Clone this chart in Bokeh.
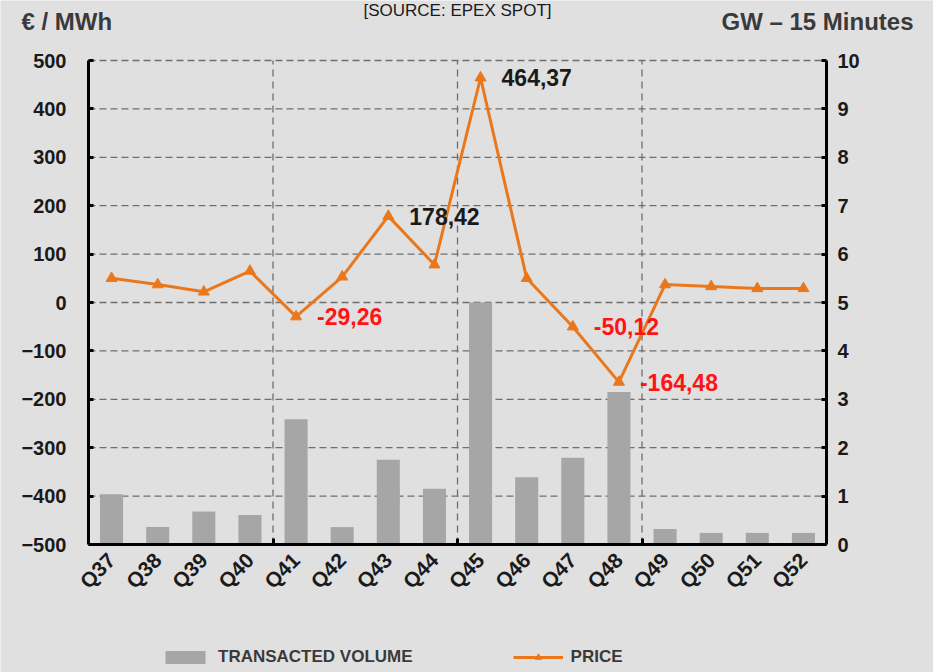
import math
from bokeh.plotting import figure
from bokeh.models import (Range1d, LinearAxis, FixedTicker, CustomJSTickFormatter,
                          ColumnDataSource, Legend, LegendItem, Label)
from bokeh.core.properties import value
from bokeh.embed import file_html
from bokeh.resources import INLINE

# ---- data ----
categories = ["Q37", "Q38", "Q39", "Q40", "Q41", "Q42", "Q43", "Q44",
              "Q45", "Q46", "Q47", "Q48", "Q49", "Q50", "Q51", "Q52"]
price = [50, 37, 22, 65, -29.26, 53, 178.42, 78,
         464.37, 50, -50.12, -164.48, 37, 33, 29, 29]           # EUR/MWh
volume = [1.04, 0.36, 0.68, 0.61, 2.59, 0.36, 1.75, 1.15,
          5.00, 1.39, 1.79, 3.15, 0.32, 0.24, 0.24, 0.24]       # GW
labelled = [4, 6, 8, 10, 11]                                    # annotated quarters
price_ticks = list(range(-500, 501, 100))
volume_ticks = list(range(0, 11))
group_breaks = [4, 8, 12]
title_left = "€ / MWh"
title_right = "GW – 15 Minutes"
source_text = "[SOURCE: EPEX SPOT]"
legend_labels = ["TRANSACTED VOLUME", "PRICE"]

FONT = "Liberation Sans"
ORANGE = "#e9781d"
BAR = "#a6a6a6"
BG = "#e0e0e1"
GRID = "#6e6e6e"
TXT = "#3a3a3a"

# ---- layout (pixels): plot box inside a 933 x 672 canvas ----
W, H = 933, 672
LEFT, RIGHT, TOP, BOTTOM = 88, 826, 60, 544
n = len(categories)
P_MIN, P_MAX = price_ticks[0], price_ticks[-1]
V_MIN, V_MAX = volume_ticks[0], volume_ticks[-1]
sx = (RIGHT - LEFT) / n
sy = (BOTTOM - TOP) / (P_MAX - P_MIN)
sv = (BOTTOM - TOP) / (V_MAX - V_MIN)

x_range = Range1d(-LEFT / sx, n + (W - RIGHT) / sx)
y_range = Range1d(P_MIN - (H - BOTTOM) / sy, P_MAX + TOP / sy)
v_range = Range1d(V_MIN - (H - BOTTOM) / sv, V_MAX + TOP / sv)

xs = [i + 0.5 for i in range(n)]

p = figure(width=W, height=H, output_backend="svg", toolbar_location=None,
           x_range=x_range, y_range=y_range, min_border=0)
p.background_fill_color = BG
p.border_fill_color = BG
p.outline_line_color = None
p.extra_y_ranges = {"gw": v_range}
p.grid.visible = False

# grid lines (dashed), limited to the plot box
hg = [t for t in price_ticks if t != P_MIN]
p.segment(x0=[0] * len(hg), x1=[n] * len(hg), y0=hg, y1=hg,
          line_color=GRID, line_width=1.3, line_dash="7 4")
p.segment(x0=group_breaks, x1=group_breaks, y0=[P_MIN] * len(group_breaks),
          y1=[P_MAX] * len(group_breaks), line_color=GRID, line_width=1.3,
          line_dash="7 5")

bars = p.vbar(x=xs, top=volume, bottom=0, width=0.5, y_range_name="gw",
              fill_color=BAR, line_color=None)

src = ColumnDataSource(dict(x=xs, y=price))
line = p.line("x", "y", source=src, line_color=ORANGE, line_width=3)
marks = p.scatter("x", "y", source=src, marker="triangle", size=11,
                  fill_color=ORANGE, line_color=ORANGE)

lab = ColumnDataSource(dict(
    x=[xs[i] for i in labelled],
    y=[price[i] for i in labelled],
    text=[f"{price[i]:.2f}".replace(".", ",") for i in labelled],
    color=["#ff1414" if price[i] < 0 else "#1a1a1a" for i in labelled],
))
p.text("x", "y", text="text", source=lab, text_color="color", x_offset=21,
       text_baseline="middle", text_align="left", text_font_size="23px",
       text_font_style="bold", text_font=value(FONT))


def style(ax, size="20px"):
    ax.axis_line_width = 3
    ax.axis_line_color = "black"
    ax.major_tick_in = 5
    ax.major_tick_out = 0
    ax.major_tick_line_width = 3
    ax.major_tick_line_color = "black"
    ax.minor_tick_line_color = None
    ax.major_label_text_font = FONT
    ax.major_label_text_font_style = "bold"
    ax.major_label_text_font_size = size
    ax.major_label_text_color = "#1a1a1a"


xa = p.xaxis[0]
style(xa, "21px")
xa.ticker = FixedTicker(ticks=xs, minor_ticks=group_breaks)
xa.formatter = CustomJSTickFormatter(args=dict(labels=categories),
                                     code="return labels[Math.floor(tick)];")
xa.major_tick_line_color = None
xa.minor_tick_in = 6
xa.minor_tick_out = 0
xa.minor_tick_line_width = 3
xa.minor_tick_line_color = "black"
xa.major_label_orientation = math.pi / 4
xa.major_label_standoff = 12
xa.bounds = (0, n)
xa.fixed_location = P_MIN

ya = p.yaxis[0]
style(ya)
ya.ticker = FixedTicker(ticks=price_ticks)
ya.major_label_standoff = 22
ya.bounds = (P_MIN, P_MAX)
ya.fixed_location = 0

ra = LinearAxis(y_range_name="gw", ticker=FixedTicker(ticks=volume_ticks))
style(ra)
ra.major_label_standoff = 11
ra.bounds = (V_MIN, V_MAX)
ra.fixed_location = n
p.add_layout(ra, "right")

# titles
p.add_layout(Label(x=0, y=P_MAX, x_offset=21 - LEFT, y_offset=TOP - 21,
                   text=title_left, text_align="left", text_baseline="middle",
                   text_font=FONT, text_font_style="bold", text_font_size="24px",
                   text_color=TXT))
p.add_layout(Label(x=n, y=P_MAX, x_offset=913 - RIGHT, y_offset=TOP - 21,
                   text=title_right, text_align="right", text_baseline="middle",
                   text_font=FONT, text_font_style="bold", text_font_size="24px",
                   text_color=TXT))
p.add_layout(Label(x=n / 2, y=P_MAX, y_offset=TOP, text=source_text,
                   text_align="center", text_baseline="top", text_font=FONT,
                   text_font_size="17px", text_color="#1a1a1a"))

# legend
legend = Legend(items=[LegendItem(label=legend_labels[0], renderers=[bars]),
                       LegendItem(label=legend_labels[1], renderers=[line, marks])],
                orientation="horizontal", location=(160, 5),
                glyph_width=50, glyph_height=16, label_standoff=8, spacing=100,
                padding=0, margin=0, border_line_color=None,
                background_fill_alpha=0,
                label_text_font=FONT, label_text_font_style="bold",
                label_text_font_size="17px", label_text_color=TXT)
p.add_layout(legend, "center")

open("out.html", "w").write(file_html(p, INLINE))
